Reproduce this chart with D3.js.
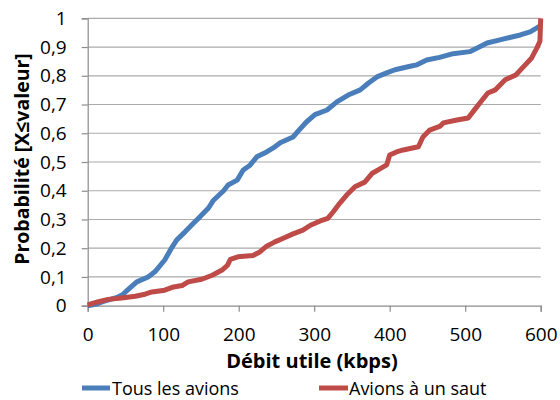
<!DOCTYPE html>
<html>
<head>
<meta charset="utf-8">
<script src="https://cdn.jsdelivr.net/npm/d3@7"></script>
<style>
  html, body { margin: 0; padding: 0; background: #fff; }
  svg { display: block; }
  text { font-family: "Open Sans", "DejaVu Sans", sans-serif; fill: #000; }
</style>
</head>
<body>
<svg id="chart" width="560" height="400"></svg>
<script>
// ---- data ----
const xTicks = [0, 100, 200, 300, 400, 500, 600];
const xTickLabels = ["0", "100", "200", "300", "400", "500", "600"];
const yTicks = [0, 0.1, 0.2, 0.3, 0.4, 0.5, 0.6, 0.7, 0.8, 0.9, 1];
const yTickLabels = ["0", "0,1", "0,2", "0,3", "0,4", "0,5", "0,6", "0,7", "0,8", "0,9", "1"];
const seriesNames = ["Tous les avions", "Avions à un saut"];
const xTitle = "Débit utile (kbps)";
const yTitle = "Probabilité [X≤valeur]";

const tousX = [0, 5, 12, 20, 30, 40, 46, 53, 65, 80, 89, 102, 112, 118, 129, 140, 149, 160, 166, 180, 186, 198, 206, 215, 224, 237, 248, 255, 272, 279, 290, 301, 317, 330, 345, 361, 372, 383, 396, 407, 427, 436, 449, 466, 484, 506, 516, 529, 546, 559, 573, 586, 595, 600];
const tousY = [0, 0.002, 0.006, 0.014, 0.022, 0.03, 0.038, 0.055, 0.083, 0.10, 0.118, 0.159, 0.205, 0.229, 0.257, 0.287, 0.31, 0.34, 0.365, 0.40, 0.42, 0.437, 0.472, 0.489, 0.518, 0.535, 0.553, 0.567, 0.587, 0.608, 0.640, 0.665, 0.681, 0.709, 0.733, 0.751, 0.775, 0.796, 0.810, 0.821, 0.833, 0.838, 0.855, 0.864, 0.877, 0.884, 0.897, 0.914, 0.925, 0.933, 0.942, 0.953, 0.967, 0.975];

const sautX = [0, 13, 27, 45, 63, 76, 85, 102, 112, 125, 133, 151, 165, 178, 185, 189, 199, 219, 228, 237, 248, 259, 272, 285, 295, 308, 318, 325, 334, 343, 354, 367, 377, 387, 396, 400, 409, 418, 438, 444, 453, 467, 471, 489, 504, 513, 522, 530, 540, 553, 567, 577, 588, 595, 599, 600];
const sautY = [0.003, 0.013, 0.022, 0.027, 0.033, 0.04, 0.048, 0.054, 0.064, 0.07, 0.083, 0.092, 0.106, 0.124, 0.14, 0.161, 0.17, 0.175, 0.187, 0.207, 0.222, 0.235, 0.25, 0.263, 0.28, 0.295, 0.304, 0.326, 0.357, 0.385, 0.414, 0.43, 0.461, 0.476, 0.49, 0.524, 0.535, 0.542, 0.553, 0.587, 0.611, 0.625, 0.636, 0.646, 0.653, 0.684, 0.714, 0.74, 0.751, 0.786, 0.803, 0.831, 0.862, 0.897, 0.92, 1.0];

const colors = ["#4A7EBB", "#BE4B48"];

// ---- layout ----
const svg = d3.select("#chart");
const x = d3.scaleLinear().domain([0, 600]).range([87.7, 540.7]);
const y = d3.scaleLinear().domain([0, 1]).range([305.7, 18.3]);

// gridlines
svg.append("g")
  .selectAll("line")
  .data(yTicks.filter(d => d > 0))
  .join("line")
  .attr("x1", x(0)).attr("x2", x(600))
  .attr("y1", d => y(d)).attr("y2", d => y(d))
  .attr("stroke", "#ababab").attr("stroke-width", 1.2);

// y axis
const yAxis = d3.axisLeft(y).tickValues(yTicks)
  .tickFormat((d, i) => yTickLabels[i]).tickSize(6).tickPadding(15);
const gy = svg.append("g").attr("transform", `translate(${x(0)},0)`).call(yAxis);
gy.select(".domain").attr("stroke", "#8c8c8c").attr("stroke-width", 1.2);
gy.selectAll(".tick line").attr("stroke", "#8c8c8c").attr("stroke-width", 1.2);
gy.selectAll(".tick text").attr("font-size", 19).attr("font-family", "Open Sans").attr("fill", "#000");

// x axis
const xAxis = d3.axisBottom(x).tickValues(xTicks)
  .tickFormat((d, i) => xTickLabels[i]).tickSize(6).tickPadding(16);
const gx = svg.append("g").attr("transform", `translate(0,${y(0)})`).call(xAxis);
gx.select(".domain").attr("stroke", "#8c8c8c").attr("stroke-width", 1.2);
gx.selectAll(".tick line").attr("stroke", "#8c8c8c").attr("stroke-width", 1.2);
gx.selectAll(".tick text").attr("font-size", 19).attr("font-family", "Open Sans").attr("fill", "#000");

// lines
const line = d3.line().x(d => x(d[0])).y(d => y(d[1]));
const series = [
  tousX.map((v, i) => [v, tousY[i]]),
  sautX.map((v, i) => [v, sautY[i]])
];
svg.append("g").selectAll("path")
  .data(series)
  .join("path")
  .attr("d", line)
  .attr("fill", "none")
  .attr("stroke", (d, i) => colors[i])
  .attr("stroke-width", 5)
  .attr("stroke-linejoin", "round")
  .attr("stroke-linecap", "butt");

// axis titles
svg.append("text")
  .attr("x", 312).attr("y", 368)
  .attr("text-anchor", "middle")
  .attr("font-size", 20).attr("font-weight", "bold")
  .text(xTitle);

svg.append("text")
  .attr("transform", "translate(29,159) rotate(-90)")
  .attr("text-anchor", "middle")
  .attr("font-size", 19.5).attr("font-weight", "bold")
  .text(yTitle);

// legend
const legendItems = [
  { x1: 82, x2: 110, tx: 112 },
  { x1: 319, x2: 348, tx: 349 }
];
const lg = svg.append("g").selectAll("g")
  .data(seriesNames)
  .join("g");
lg.append("line")
  .attr("x1", (d, i) => legendItems[i].x1).attr("x2", (d, i) => legendItems[i].x2)
  .attr("y1", 388).attr("y2", 388)
  .attr("stroke", (d, i) => colors[i]).attr("stroke-width", 5);
lg.append("text")
  .attr("x", (d, i) => legendItems[i].tx).attr("y", 394.5)
  .attr("font-size", 18)
  .text(d => d);
</script>
</body>
</html>
